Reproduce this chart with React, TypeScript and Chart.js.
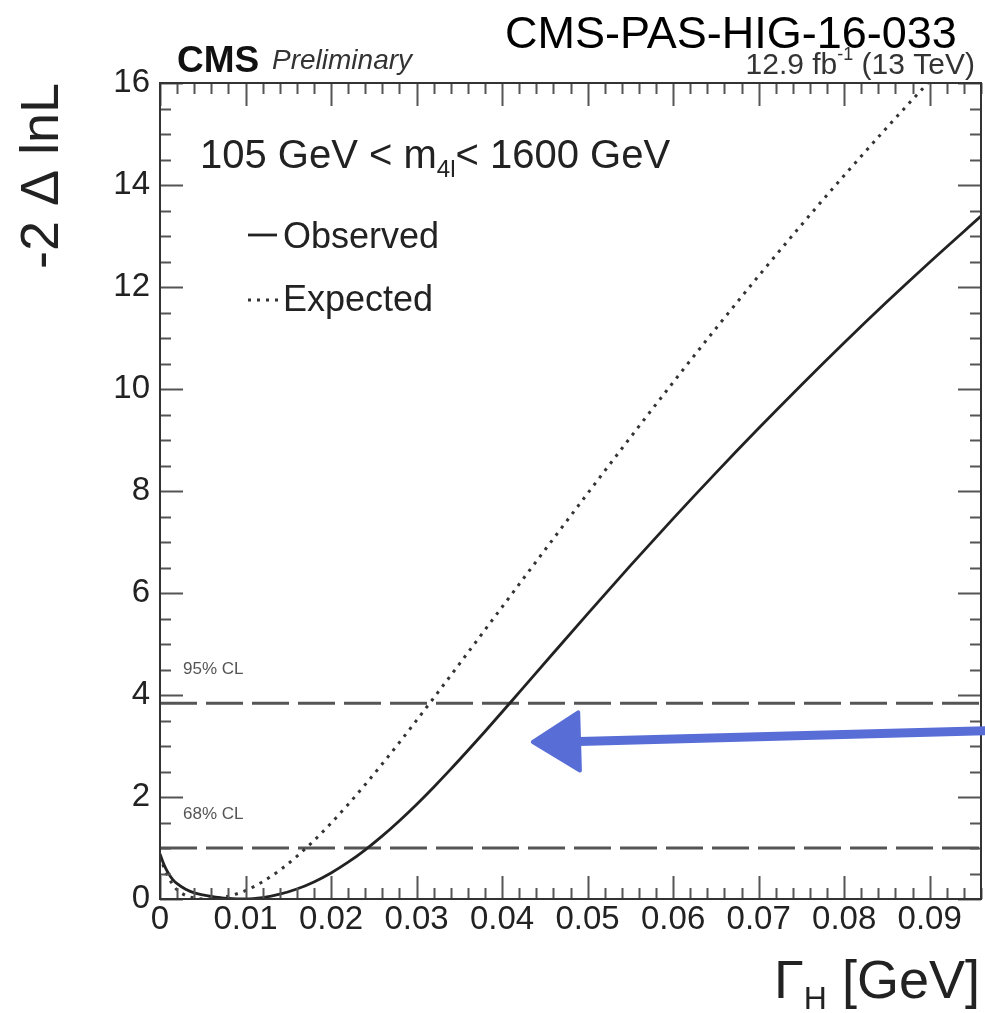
import React, { useEffect, useRef } from 'react';
import { Chart, registerables } from 'chart.js';

Chart.register(...registerables);

// ---------------- data ----------------
const observedX = [0, 0.0005, 0.001, 0.0015, 0.002, 0.003, 0.004, 0.005, 0.006, 0.007, 0.008, 0.009, 0.01, 0.012, 0.014, 0.016, 0.018, 0.02, 0.022, 0.024, 0.026, 0.028, 0.03, 0.032, 0.034, 0.036, 0.038, 0.04, 0.042, 0.046, 0.05, 0.055, 0.06, 0.065, 0.07, 0.075, 0.08, 0.085, 0.09, 0.096];
const observedY = [0.88, 0.66, 0.5, 0.38, 0.3, 0.19, 0.12, 0.08, 0.05, 0.027, 0.012, 0.004, 0.001, 0.029, 0.094, 0.196, 0.335, 0.511, 0.722, 0.965, 1.237, 1.535, 1.855, 2.193, 2.546, 2.911, 3.285, 3.666, 4.051, 4.823, 5.591, 6.536, 7.459, 8.356, 9.229, 10.079, 10.906, 11.709, 12.486, 13.389];

const expectedX = [0, 0.0005, 0.001, 0.0015, 0.002, 0.003, 0.004, 0.005, 0.006, 0.008, 0.01, 0.012, 0.014, 0.016, 0.018, 0.02, 0.022, 0.024, 0.026, 0.028, 0.03, 0.032, 0.035, 0.04, 0.045, 0.05, 0.055, 0.06, 0.065, 0.07, 0.075, 0.08, 0.085, 0.09, 0.096];
const expectedY = [0.85, 0.6, 0.42, 0.28, 0.18, 0.07, 0.02, 0.0, 0.006, 0.056, 0.166, 0.338, 0.564, 0.836, 1.145, 1.486, 1.854, 2.244, 2.651, 3.071, 3.502, 3.941, 4.607, 5.725, 6.842, 7.952, 9.05, 10.13, 11.187, 12.217, 13.217, 14.187, 15.127, 16.037, 17.09];

const clLevels = [1.0, 3.84];
const clLabels = ['68% CL', '95% CL'];

const xTickValues = [0, 0.01, 0.02, 0.03, 0.04, 0.05, 0.06, 0.07, 0.08, 0.09];
const xTickLabels = ['0', '0.01', '0.02', '0.03', '0.04', '0.05', '0.06', '0.07', '0.08', '0.09'];
const yTickValues = [0, 2, 4, 6, 8, 10, 12, 14, 16];
const yTickLabels = ['0', '2', '4', '6', '8', '10', '12', '14', '16'];
const xMinorStep = 0.002;
const yMinorStep = 0.5;

const X_MIN = 0;
const X_MAX = 0.096;
const Y_MIN = 0;
const Y_MAX = 16;

// hand-drawn arrow annotation (data coordinates)
const arrowTip = { x: 0.0436, y: 3.08 };
const arrowTail = { x: 0.0966, y: 3.3 };
const arrowHeadUpper = { x: 0.0489, y: 3.66 };
const arrowHeadLower = { x: 0.0491, y: 2.52 };

const FONT = '"Liberation Sans", Arial, Helvetica, sans-serif';

const overlayPlugin = {
  id: 'rootStyleOverlay',
  afterDatasetsDraw(chart: any) {
    const ctx = chart.ctx as CanvasRenderingContext2D;
    const xs = chart.scales.x;
    const ys = chart.scales.y;
    const { left, right, top, bottom } = chart.chartArea;

    ctx.save();
    // ---- ticks (inside frame, all four sides) ----
    ctx.strokeStyle = '#555';
    ctx.lineWidth = 2;
    const majorLen = 23;
    const minorLen = 11;
    const isMajorX = (v: number) => xTickValues.some((t) => Math.abs(t - v) < 1e-9);
    for (let i = 0; X_MIN + i * xMinorStep <= X_MAX + 1e-9; i++) {
      const v = +(X_MIN + i * xMinorStep).toFixed(6);
      const px = Math.round(xs.getPixelForValue(v)) + 0.5;
      const len = isMajorX(v) ? majorLen : minorLen;
      ctx.beginPath();
      ctx.moveTo(px, bottom);
      ctx.lineTo(px, bottom - len);
      ctx.moveTo(px, top);
      ctx.lineTo(px, top + len);
      ctx.stroke();
    }
    const isMajorY = (v: number) => yTickValues.some((t) => Math.abs(t - v) < 1e-9);
    for (let i = 0; Y_MIN + i * yMinorStep <= Y_MAX + 1e-9; i++) {
      const v = Y_MIN + i * yMinorStep;
      const py = Math.round(ys.getPixelForValue(v)) + 0.5;
      const len = isMajorY(v) ? majorLen : minorLen;
      ctx.beginPath();
      ctx.moveTo(left, py);
      ctx.lineTo(left + len, py);
      ctx.moveTo(right, py);
      ctx.lineTo(right - len, py);
      ctx.stroke();
    }

    // ---- frame ----
    ctx.strokeStyle = '#333';
    ctx.lineWidth = 2;
    ctx.strokeRect(left, top, right - left, bottom - top);

    // ---- CL labels ----
    ctx.fillStyle = '#555';
    ctx.font = `17px ${FONT}`;
    ctx.textAlign = 'left';
    ctx.textBaseline = 'alphabetic';
    clLevels.forEach((lvl, i) => {
      const py = ys.getPixelForValue(lvl);
      ctx.fillText(clLabels[i], 183, py - 29);
    });

    // ---- header texts ----
    ctx.fillStyle = '#111';
    ctx.font = `bold 37px ${FONT}`;
    ctx.fillText('CMS', 177, 72);
    ctx.font = `italic 28px ${FONT}`;
    ctx.fillStyle = '#333';
    ctx.fillText('Preliminary', 272, 69);

    // lumi label right aligned
    ctx.fillStyle = '#333';
    const lumiA = '12.9 fb';
    const lumiSup = '-1';
    const lumiB = ' (13 TeV)';
    ctx.font = `30px ${FONT}`;
    const wA = ctx.measureText(lumiA).width;
    const wB = ctx.measureText(lumiB).width;
    ctx.font = `18px ${FONT}`;
    const wS = ctx.measureText(lumiSup).width;
    let lx = 975 - (wA + wS + wB);
    ctx.font = `30px ${FONT}`;
    ctx.fillText(lumiA, lx, 74);
    lx += wA;
    ctx.font = `18px ${FONT}`;
    ctx.fillText(lumiSup, lx, 60);
    lx += wS;
    ctx.font = `30px ${FONT}`;
    ctx.fillText(lumiB, lx, 74);

    // document id
    ctx.fillStyle = '#000';
    ctx.font = `45px ${FONT}`;
    ctx.fillText('CMS-PAS-HIG-16-033', 505, 48);

    // mass range text
    ctx.fillStyle = '#222';
    let tx = 200;
    ctx.font = `40px ${FONT}`;
    const t1 = '105 GeV < m';
    ctx.fillText(t1, tx, 168);
    tx += ctx.measureText(t1).width;
    ctx.font = `24px ${FONT}`;
    ctx.fillText('4l', tx, 177);
    tx += ctx.measureText('4l').width;
    ctx.font = `40px ${FONT}`;
    ctx.fillText('< 1600 GeV', tx, 168);

    // legend
    ctx.strokeStyle = '#222';
    ctx.lineWidth = 2.8;
    ctx.setLineDash([]);
    ctx.beginPath();
    ctx.moveTo(248, 235);
    ctx.lineTo(277, 235);
    ctx.stroke();
    ctx.strokeStyle = '#333';
    ctx.lineWidth = 3;
    ctx.setLineDash([3, 6]);
    ctx.beginPath();
    ctx.moveTo(248, 300);
    ctx.lineTo(278, 300);
    ctx.stroke();
    ctx.setLineDash([]);
    ctx.fillStyle = '#222';
    ctx.font = `36px ${FONT}`;
    ctx.fillText('Observed', 283, 248);
    ctx.fillText('Expected', 283, 311);

    // y-axis title
    ctx.save();
    ctx.translate(58, 176);
    ctx.rotate(-Math.PI / 2);
    ctx.textAlign = 'center';
    ctx.font = `54px ${FONT}`;
    ctx.fillStyle = '#222';
    ctx.fillText('-2 \u0394 lnL', 0, 0);
    ctx.restore();

    // x-axis title
    ctx.font = `54px ${FONT}`;
    const gW = ctx.measureText('\u0393').width;
    const restT = ' [GeV]';
    const rW = ctx.measureText(restT).width;
    ctx.font = `32px ${FONT}`;
    const hW = ctx.measureText('H').width;
    let ax = 980 - (gW + hW + rW);
    ctx.fillStyle = '#222';
    ctx.font = `54px ${FONT}`;
    ctx.fillText('\u0393', ax, 998);
    ax += gW;
    ctx.font = `32px ${FONT}`;
    ctx.fillText('H', ax, 1009);
    ax += hW;
    ctx.font = `54px ${FONT}`;
    ctx.fillText(restT, ax, 998);

    // arrow annotation
    const P = (p: { x: number; y: number }) => [xs.getPixelForValue(p.x), ys.getPixelForValue(p.y)];
    const [tipX, tipY] = P(arrowTip);
    const [tailX, tailY] = P(arrowTail);
    const [ux, uy] = P(arrowHeadUpper);
    const [lwx, lwy] = P(arrowHeadLower);
    ctx.strokeStyle = 'rgb(88,110,214)';
    ctx.fillStyle = 'rgb(88,110,214)';
    ctx.lineWidth = 9;
    ctx.lineCap = 'round';
    ctx.beginPath();
    ctx.moveTo(tailX, tailY);
    ctx.lineTo((ux + lwx) / 2, (uy + lwy) / 2);
    ctx.stroke();
    ctx.lineJoin = 'round';
    ctx.lineWidth = 4;
    ctx.beginPath();
    ctx.moveTo(tipX, tipY);
    ctx.lineTo(ux, uy);
    ctx.lineTo(lwx, lwy);
    ctx.closePath();
    ctx.fill();
    ctx.stroke();

    ctx.restore();
  },
};

export default function App() {
  const canvasRef = useRef<HTMLCanvasElement | null>(null);

  useEffect(() => {
    const canvas = canvasRef.current;
    if (!canvas) return;

    const toPts = (xs: number[], ys: number[]) => xs.map((x, i) => ({ x, y: ys[i] }));

    const datasets: any[] = [
      {
        label: 'Observed',
        data: toPts(observedX, observedY),
        borderColor: '#222',
        borderWidth: 2.8,
        pointRadius: 0,
        cubicInterpolationMode: 'monotone',
        fill: false,
      },
      {
        label: 'Expected',
        data: toPts(expectedX, expectedY),
        borderColor: '#333',
        borderWidth: 3,
        borderDash: [3, 6],
        pointRadius: 0,
        cubicInterpolationMode: 'monotone',
        fill: false,
      },
      ...clLevels.map((lvl, i) => ({
        label: clLabels[i],
        data: [
          { x: X_MIN, y: lvl },
          { x: X_MAX, y: lvl },
        ],
        borderColor: '#555',
        borderWidth: 3,
        borderDash: [37, 9],
        pointRadius: 0,
        fill: false,
      })),
    ];

    const chart = new Chart(canvas, {
      type: 'line',
      data: { datasets },
      options: {
        responsive: false,
        animation: false,
        devicePixelRatio: 1,
        layout: { padding: { top: 83, right: 4, left: 0, bottom: 0 } },
        plugins: {
          legend: { display: false },
          tooltip: { enabled: false },
          title: { display: false },
        },
        scales: {
          x: {
            type: 'linear',
            min: X_MIN,
            max: X_MAX,
            grid: { display: false, drawTicks: false },
            border: { display: false },
            afterBuildTicks: (scale: any) => {
              scale.ticks = xTickValues.map((v) => ({ value: v }));
            },
            afterFit: (scale: any) => {
              scale.height = 114;
            },
            ticks: {
              autoSkip: false,
              maxRotation: 0,
              padding: 1,
              color: '#222',
              font: { family: FONT, size: 33 },
              callback: (v: any) => {
                const idx = xTickValues.findIndex((t) => Math.abs(t - Number(v)) < 1e-9);
                return idx >= 0 ? xTickLabels[idx] : '';
              },
            },
          },
          y: {
            type: 'linear',
            min: Y_MIN,
            max: Y_MAX,
            grid: { display: false, drawTicks: false },
            border: { display: false },
            afterBuildTicks: (scale: any) => {
              scale.ticks = yTickValues.map((v) => ({ value: v }));
            },
            afterFit: (scale: any) => {
              scale.width = 160;
            },
            ticks: {
              autoSkip: false,
              padding: 10,
              color: '#222',
              font: { family: FONT, size: 33 },
              callback: (v: any) => {
                const idx = yTickValues.findIndex((t) => Math.abs(t - Number(v)) < 1e-9);
                return idx >= 0 ? yTickLabels[idx] : '';
              },
            },
          },
        },
      },
      plugins: [overlayPlugin],
    } as any);

    return () => {
      chart.destroy();
    };
  }, []);

  return (
    <div style={{ position: 'absolute', left: 0, top: 0, width: 985, height: 1013, background: '#fff' }}>
      <canvas ref={canvasRef} width={985} height={1013} style={{ display: 'block' }} />
    </div>
  );
}
